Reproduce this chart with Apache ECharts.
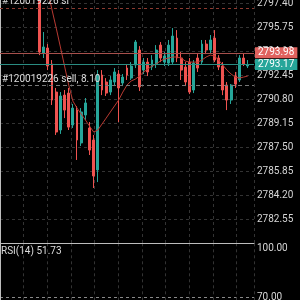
<!DOCTYPE html>
<html><head><meta charset="utf-8">
<script src="https://cdn.jsdelivr.net/npm/echarts@6/dist/echarts.min.js"></script>
<style>html,body{margin:0;padding:0;background:#000;}#c{width:300px;height:300px;}</style>
</head><body><div id="c"></div>
<script>
// ---- data ----
const categories = Array.from({length: 61}, (_, i) => 'b' + i);
// [open, close, low, high]; '-' = no candle visible
const candles = [
  '-','-','-','-','-','-','-','-','-',
  [2798.98, 2794.03, 2793.82, 2799.32],
  [2793.96, 2794.38, 2793.62, 2795.41],
  [2794.31, 2793.07, 2792.79, 2794.58],
  [2793.21, 2790.73, 2790.39, 2793.48],
  [2791.28, 2788.53, 2788.33, 2791.56],
  [2788.67, 2791.01, 2788.40, 2791.28],
  [2791.07, 2790.04, 2789.49, 2791.42],
  [2791.21, 2788.87, 2788.67, 2791.56],
  [2789.01, 2790.18, 2788.81, 2790.46],
  [2790.04, 2787.98, 2786.61, 2790.32],
  [2787.78, 2789.91, 2787.57, 2790.18],
  [2789.70, 2790.53, 2789.36, 2790.87],
  [2788.81, 2787.29, 2786.95, 2789.22],
  [2787.98, 2785.51, 2784.68, 2788.33],
  [2785.92, 2792.45, 2785.09, 2792.79],
  [2792.45, 2791.42, 2791.07, 2792.79],
  [2791.97, 2791.21, 2791.01, 2792.24],
  [2791.28, 2792.11, 2791.07, 2792.38],
  [2791.97, 2792.66, 2791.69, 2792.93],
  [2792.52, 2791.56, 2789.22, 2792.79],
  [2791.90, 2792.31, 2791.69, 2792.52],
  [2792.93, 2792.45, 2792.11, 2793.21],
  [2792.24, 2793.07, 2792.11, 2793.34],
  [2793.14, 2794.72, 2792.93, 2794.86],
  [2794.17, 2791.63, 2791.35, 2794.44],
  [2792.79, 2793.34, 2792.52, 2793.62],
  [2793.34, 2792.66, 2792.38, 2793.62],
  [2793.00, 2793.48, 2792.79, 2793.82],
  [2793.21, 2794.17, 2792.93, 2794.51],
  [2794.51, 2793.62, 2793.34, 2794.72],
  [2793.34, 2793.76, 2793.07, 2794.03],
  [2793.27, 2794.51, 2793.07, 2794.86],
  [2793.34, 2795.13, 2793.21, 2795.68],
  [2794.99, 2793.62, 2793.34, 2795.54],
  [2793.62, 2792.79, 2792.11, 2794.03],
  [2793.00, 2791.97, 2791.69, 2793.34],
  [2793.34, 2791.28, 2791.14, 2793.62],
  [2791.42, 2793.27, 2791.21, 2793.48],
  [2793.62, 2792.93, 2792.66, 2793.89],
  [2793.34, 2794.58, 2793.14, 2794.86],
  [2794.58, 2794.17, 2793.89, 2794.86],
  [2794.17, 2794.86, 2793.96, 2795.20],
  [2794.99, 2793.48, 2793.34, 2795.54],
  [2793.62, 2793.00, 2792.79, 2793.82],
  [2793.07, 2791.42, 2791.07, 2793.34],
  [2791.76, 2790.73, 2790.04, 2791.97],
  [2790.73, 2791.76, 2790.46, 2791.83],
  [2792.38, 2791.83, 2791.56, 2792.66],
  [2792.11, 2793.62, 2791.97, 2793.82],
  [2793.62, 2793.21, 2793.07, 2793.96],
  [2793.07, 2793.17, 2792.93, 2793.48]
];
const maValues = [
  null,null,null,null,null,null,null,null,null,null,
  2799.53, 2798.22, 2796.92, 2795.68, 2794.38, 2793.07, 2791.76, 2790.66, 2790.18, 2789.77,
  2789.36, 2788.94, 2788.53, 2788.67, 2789.08, 2789.49, 2789.91, 2790.32, 2790.73, 2791.28,
  2791.76, 2792.04, 2792.17, 2792.38, 2792.66, 2792.86, 2793.07, 2793.21, 2793.41, 2793.55,
  2793.62, 2793.69, 2793.69, 2793.62, 2793.41, 2793.34, 2793.34, 2793.34, 2793.48, 2793.69,
  2793.82, 2793.76, 2793.48, 2793.14, 2792.79, 2792.52, 2792.31, 2792.24, 2792.31, 2792.38
];
const askPrice = 2793.98;
const bidPrice = 2793.17;
const slPrice = 2797.06;
const sellPrice = 2791.76;
const slLabel = '#120019226 sl';
const sellLabel = '#120019226 sell, 8.10';
const rsiLabel = 'RSI(14) 51.73';
const priceAxis = {min: 2780.90, max: 2797.61, interval: 1.65};
const rsiAxis = {min: 10, max: 100, interval: 30};

// ---- chart ----
const FONT = 'Roboto';
const UP = '#26a69a', DOWN = '#ef5350';
const chart = echarts.init(document.getElementById('c'));
const vGrid = (gi) => ({
  type: 'value', gridIndex: gi, min: 0, max: 10.73, interval: 1, position: 'top',
  axisLine: {show: false}, axisTick: {show: false}, axisLabel: {show: false},
  splitLine: {show: true, lineStyle: {color: '#333', type: [3, 3], width: 1}}
});
chart.setOption({
  backgroundColor: '#000',
  animation: false,
  title: {text: rsiLabel, left: 1, top: 246, padding: 0,
    textStyle: {color: '#dcdcdc', fontSize: 10, fontWeight: 'normal', fontFamily: FONT}},
  grid: [
    {left: 0, right: 46, top: 0, bottom: 57, outerBoundsMode: 'none', containLabel: false},
    {left: 0, right: 46, top: 243.3, height: 163.2, outerBoundsMode: 'none', containLabel: false}
  ],
  xAxis: [
    {type: 'category', gridIndex: 0, data: categories, boundaryGap: true,
      axisLine: {show: true, lineStyle: {color: '#bdbdbd', width: 1}},
      axisTick: {show: false}, axisLabel: {show: false}, splitLine: {show: false}},
    vGrid(0),
    vGrid(1)
  ],
  yAxis: [
    {type: 'value', gridIndex: 0, position: 'right', scale: true,
      min: priceAxis.min, max: priceAxis.max, interval: priceAxis.interval,
      axisLine: {show: true, lineStyle: {color: '#bdbdbd', width: 1}},
      axisTick: {show: false},
      axisLabel: {color: '#d6d6d6', fontSize: 10, fontFamily: FONT, margin: 3,
        showMinLabel: false, showMaxLabel: false, formatter: v => v.toFixed(2)},
      splitLine: {show: true, showMinLine: false, showMaxLine: false,
        lineStyle: {color: '#333', type: [3, 3], width: 1}}},
    {type: 'value', gridIndex: 1, position: 'right',
      min: rsiAxis.min, max: rsiAxis.max, interval: rsiAxis.interval,
      axisLine: {show: true, lineStyle: {color: '#bdbdbd', width: 1}},
      axisTick: {show: false},
      axisLabel: {color: '#d6d6d6', fontSize: 10, fontFamily: FONT, margin: 3,
        showMaxLabel: true, verticalAlignMaxLabel: 'top', formatter: v => v.toFixed(2)},
      splitLine: {show: true, showMaxLine: false,
        lineStyle: {color: '#8a8a8a', type: [3, 3], width: 1}}}
  ],
  series: [
    {type: 'candlestick', xAxisIndex: 0, yAxisIndex: 0, data: candles, barWidth: 2.4,
      itemStyle: {color: UP, color0: DOWN, borderColor: UP, borderColor0: DOWN, borderWidth: 1},
      markLine: {
        silent: true, symbol: ['none', 'none'], animation: false,
        data: [
          {yAxis: slPrice, lineStyle: {color: '#8c3a30', type: [3, 3], width: 1},
            label: {show: true, position: 'insideStartTop', formatter: slLabel, color: '#dcdcdc',
              fontSize: 10, fontFamily: FONT, distance: [2, 1]}},
          {yAxis: sellPrice, lineStyle: {color: '#777', type: [4, 3], width: 1},
            label: {show: true, position: 'insideStartTop', formatter: sellLabel, color: '#dcdcdc',
              fontSize: 10, fontFamily: FONT, distance: [2, 1]}},
          {yAxis: askPrice, lineStyle: {color: '#a8504c', type: 'solid', width: 1},
            label: {show: true, position: 'end', formatter: askPrice.toFixed(2), color: '#fff',
              backgroundColor: '#e0625e', padding: [1, 3, 0, 3], fontSize: 10, fontFamily: FONT, distance: 1}},
          {yAxis: bidPrice, lineStyle: {color: '#2a8c82', type: 'solid', width: 1},
            label: {show: true, position: 'end', formatter: bidPrice.toFixed(2), color: '#fff',
              backgroundColor: '#26a69a', padding: [1, 3, 0, 3], fontSize: 10, fontFamily: FONT, distance: 1}}
        ]
      }},
    {type: 'line', xAxisIndex: 0, yAxisIndex: 0, data: maValues, showSymbol: false, symbol: 'none',
      lineStyle: {color: '#b83a32', width: 1}, z: 3}
  ]
});
</script></body></html>
